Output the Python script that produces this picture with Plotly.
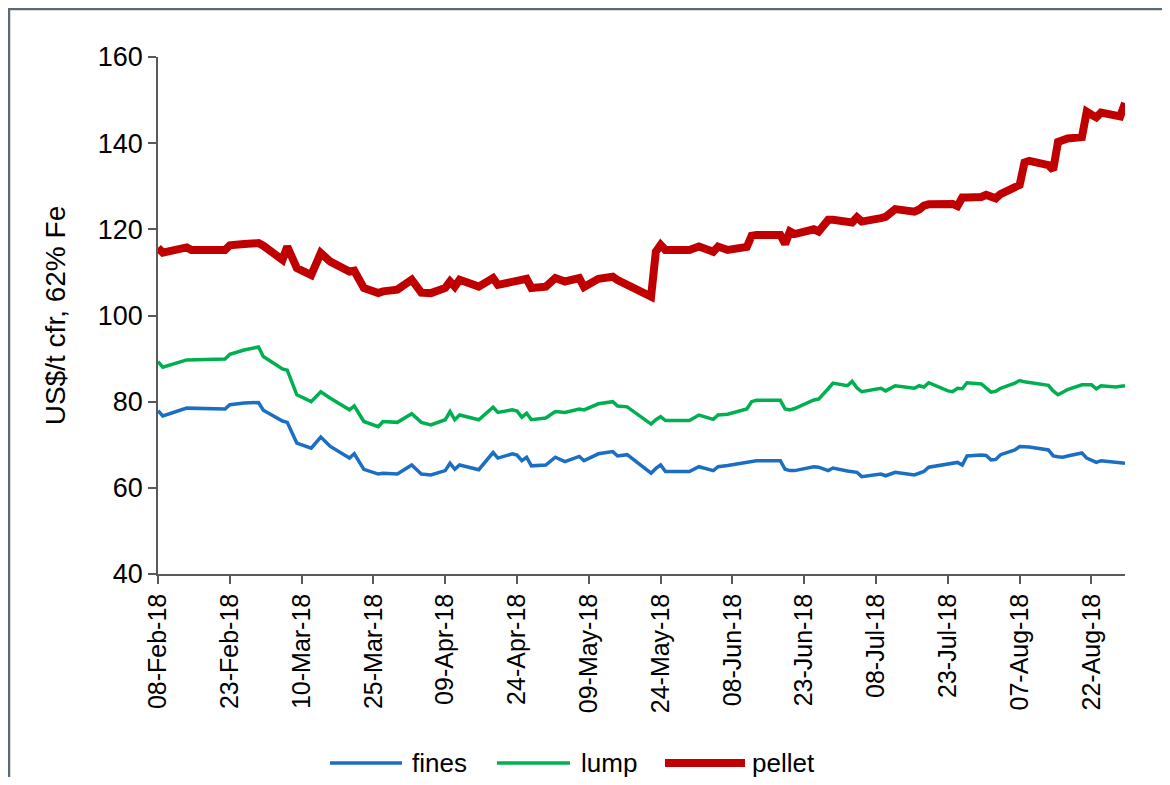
import plotly.graph_objects as go

# ---- data ----
dates = [
    "2018-02-08", "2018-02-09", "2018-02-14", "2018-02-15", "2018-02-22", "2018-02-23",
    "2018-02-26", "2018-03-01", "2018-03-02", "2018-03-06", "2018-03-07", "2018-03-09",
    "2018-03-12", "2018-03-14", "2018-03-16", "2018-03-20", "2018-03-21", "2018-03-23",
    "2018-03-26", "2018-03-27", "2018-03-30", "2018-04-02", "2018-04-04", "2018-04-06",
    "2018-04-09", "2018-04-10", "2018-04-11", "2018-04-12", "2018-04-16", "2018-04-19",
    "2018-04-20", "2018-04-23", "2018-04-24", "2018-04-25", "2018-04-26", "2018-04-27",
    "2018-04-30", "2018-05-02", "2018-05-04", "2018-05-07", "2018-05-08", "2018-05-11",
    "2018-05-14", "2018-05-15", "2018-05-17", "2018-05-22", "2018-05-23", "2018-05-24",
    "2018-05-25", "2018-05-30", "2018-06-01", "2018-06-04", "2018-06-05", "2018-06-07",
    "2018-06-11", "2018-06-12", "2018-06-13", "2018-06-18", "2018-06-19", "2018-06-20",
    "2018-06-21", "2018-06-25", "2018-06-26", "2018-06-28", "2018-06-29", "2018-07-02",
    "2018-07-03", "2018-07-04", "2018-07-05", "2018-07-09", "2018-07-10", "2018-07-12",
    "2018-07-16", "2018-07-17", "2018-07-18", "2018-07-19", "2018-07-23", "2018-07-24",
    "2018-07-25", "2018-07-26", "2018-07-27", "2018-07-30", "2018-07-31", "2018-08-01",
    "2018-08-02", "2018-08-03", "2018-08-06", "2018-08-07", "2018-08-08", "2018-08-09",
    "2018-08-13", "2018-08-14", "2018-08-15", "2018-08-16", "2018-08-17", "2018-08-20",
    "2018-08-21", "2018-08-22", "2018-08-23", "2018-08-24", "2018-08-27", "2018-08-28",
    "2018-08-29",
]

fines = [
    77.9, 76.7, 78.5, 78.5, 78.3, 79.3,
    79.7, 79.8, 78.0, 75.5, 75.2, 70.4,
    69.2, 71.8, 69.6, 66.9, 67.9, 64.3,
    63.2, 63.4, 63.2, 65.3, 63.2, 63.0,
    64.0, 65.7, 64.3, 65.3, 64.2, 68.2,
    66.9, 67.9, 67.6, 66.3, 67.1, 65.1,
    65.3, 67.1, 66.1, 67.3, 66.3, 67.9,
    68.4, 67.4, 67.7, 63.4, 64.5, 65.3,
    63.8, 63.8, 64.9, 64.0, 64.9, 65.2,
    65.9, 66.1, 66.3, 66.3, 64.3, 64.0,
    64.0, 64.9, 64.8, 64.0, 64.6, 63.9,
    63.7, 63.6, 62.6, 63.2, 62.8, 63.6,
    63.0, 63.4, 63.8, 64.8, 65.6, 65.8,
    65.9, 65.3, 67.4, 67.6, 67.5, 66.5,
    66.6, 67.7, 68.8, 69.6, 69.6, 69.5,
    68.8, 67.4, 67.2, 67.1, 67.4, 68.1,
    66.9, 66.3, 65.9, 66.3, 66.0, 65.8,
    65.7,
]

lump = [
    89.3, 88.0, 89.7, 89.7, 89.9, 91.0,
    92.0, 92.7, 90.5, 87.6, 87.3, 81.6,
    80.0, 82.3, 80.8, 78.1, 79.0, 75.4,
    74.2, 75.4, 75.2, 77.2, 75.2, 74.6,
    75.8, 77.7, 75.8, 76.9, 75.8, 78.7,
    77.5, 78.1, 77.8, 76.4, 77.3, 75.8,
    76.2, 77.7, 77.5, 78.3, 78.1, 79.5,
    80.0, 79.0, 78.8, 74.8, 75.8, 76.5,
    75.6, 75.6, 76.9, 75.9, 76.9, 77.1,
    78.3, 80.0, 80.3, 80.3, 78.3, 78.1,
    78.4, 80.4, 80.6, 83.0, 84.3, 83.7,
    84.7, 83.2, 82.3, 83.1, 82.5, 83.7,
    83.1, 83.7, 83.4, 84.4, 82.5, 82.3,
    83.1, 83.0, 84.4, 84.1, 83.2, 82.2,
    82.4, 83.1, 84.3, 84.9, 84.6, 84.4,
    83.8, 82.5, 81.6, 82.2, 82.8, 83.9,
    83.9, 83.9, 83.0, 83.7, 83.4, 83.6,
    83.7,
]

pellet = [
    115.7, 114.6, 115.8, 115.2, 115.2, 116.3,
    116.6, 116.8, 116.2, 112.9, 116.0, 111.0,
    109.4, 114.5, 112.5, 110.2, 110.4, 106.4,
    105.2, 105.6, 106.0, 108.3, 105.3, 105.2,
    106.4, 107.9, 106.7, 108.3, 106.7, 108.7,
    107.1, 107.7, 107.8, 108.2, 108.5, 106.4,
    106.7, 108.7, 107.9, 108.7, 106.6, 108.5,
    109.0, 108.2, 107.1, 104.4, 114.8, 116.4,
    115.2, 115.2, 116.0, 114.8, 116.0, 115.2,
    115.9, 118.5, 118.7, 118.7, 116.6, 119.5,
    118.9, 120.0, 119.5, 122.2, 122.2, 121.5,
    121.6, 122.8, 121.8, 122.6, 122.9, 124.7,
    124.1, 124.6, 125.5, 125.8, 126.2, 125.9,
    125.4, 127.4, 127.4, 127.5, 128.0, 127.5,
    127.2, 128.2, 129.8, 130.3, 135.5, 135.9,
    134.9, 133.8, 140.3, 140.9, 141.1, 141.4,
    147.3, 146.6, 146.0, 147.1, 146.3, 146.2,
    149.3,
]

series_names = ["fines", "lump", "pellet"]
y_ticks = [40, 60, 80, 100, 120, 140, 160]
y_title = "US$/t cfr, 62% Fe"

# ---- styling ----
W, H = 1170, 785
OFF = 8  # page body margin of the html page
FW, FH = W - 2 * OFF, H - 2 * OFF  # figure size
# plot area in page pixels (from the reference)
PL, PR, PT, PB = 158, 1125, 57, 574
colors = {"fines": "#1a6fc4", "lump": "#00b050", "pellet": "#c00000"}
widths = {"fines": 3.5, "lump": 3.5, "pellet": 8}
FONT = "Liberation Sans, Arial, sans-serif"
AXIS_COLOR = "#595959"


def px_x(px):
    return (px - PL) / (PR - PL)


def px_y(py):
    return (PB - py) / (PB - PT)


fig = go.Figure()
for name, vals in zip(series_names, [fines, lump, pellet]):
    fig.add_trace(go.Scatter(
        x=dates, y=vals, mode="lines", name=name,
        line=dict(color=colors[name], width=widths[name]),
        showlegend=False,
    ))

# manual legend (long line samples like the reference)
legend_items = [("fines", 330, 402, 410), ("lump", 497, 570, 579), ("pellet", 665, 745, 750)]
legend_y = 763
shapes = []
annotations = []
for name, x0, x1, xt in legend_items:
    shapes.append(dict(type="line", xref="paper", yref="paper",
                       x0=px_x(x0), x1=px_x(x1), y0=px_y(legend_y), y1=px_y(legend_y),
                       line=dict(color=colors[name], width=widths[name]),
                       layer="above"))
    annotations.append(dict(xref="paper", yref="paper", x=px_x(xt), y=px_y(legend_y),
                            text=name, showarrow=False, xanchor="left", yanchor="middle",
                            font=dict(family=FONT, size=26, color="#000000")))

# outer frame
shapes.append(dict(type="rect", xref="paper", yref="paper",
                   x0=px_x(9), x1=px_x(1200), y0=px_y(820), y1=px_y(9),
                   line=dict(color="#5b6b76", width=2.5), fillcolor="rgba(0,0,0,0)",
                   layer="above"))

fig.update_layout(
    width=FW, height=FH,
    margin=dict(l=PL - OFF, r=(W - OFF) - PR, t=PT - OFF, b=(H - OFF) - PB),
    paper_bgcolor="white", plot_bgcolor="white",
    font=dict(family=FONT, color="#000000"),
    shapes=shapes, annotations=annotations,
    showlegend=False,
)

fig.update_xaxes(
    type="date",
    range=["2018-02-08", "2018-08-29"],
    tick0="2018-02-08", dtick=15 * 86400000,
    tickformat="%d-%b-%y", tickangle=-90,
    ticks="outside", ticklen=8, tickwidth=1.5, tickcolor=AXIS_COLOR,
    showline=True, linecolor=AXIS_COLOR, linewidth=1.5,
    showgrid=False, zeroline=False,
    tickfont=dict(family=FONT, size=25, color="#000000"),
)
fig.update_yaxes(
    range=[40, 160], tickvals=y_ticks,
    ticks="outside", ticklen=8, tickwidth=1.5, tickcolor=AXIS_COLOR,
    showline=True, linecolor=AXIS_COLOR, linewidth=1.5,
    showgrid=False, zeroline=False,
    tickfont=dict(family=FONT, size=27, color="#000000"),
    title=dict(text=y_title, font=dict(family=FONT, size=28, color="#000000"), standoff=24),
)

fig.write_html("out.html")
